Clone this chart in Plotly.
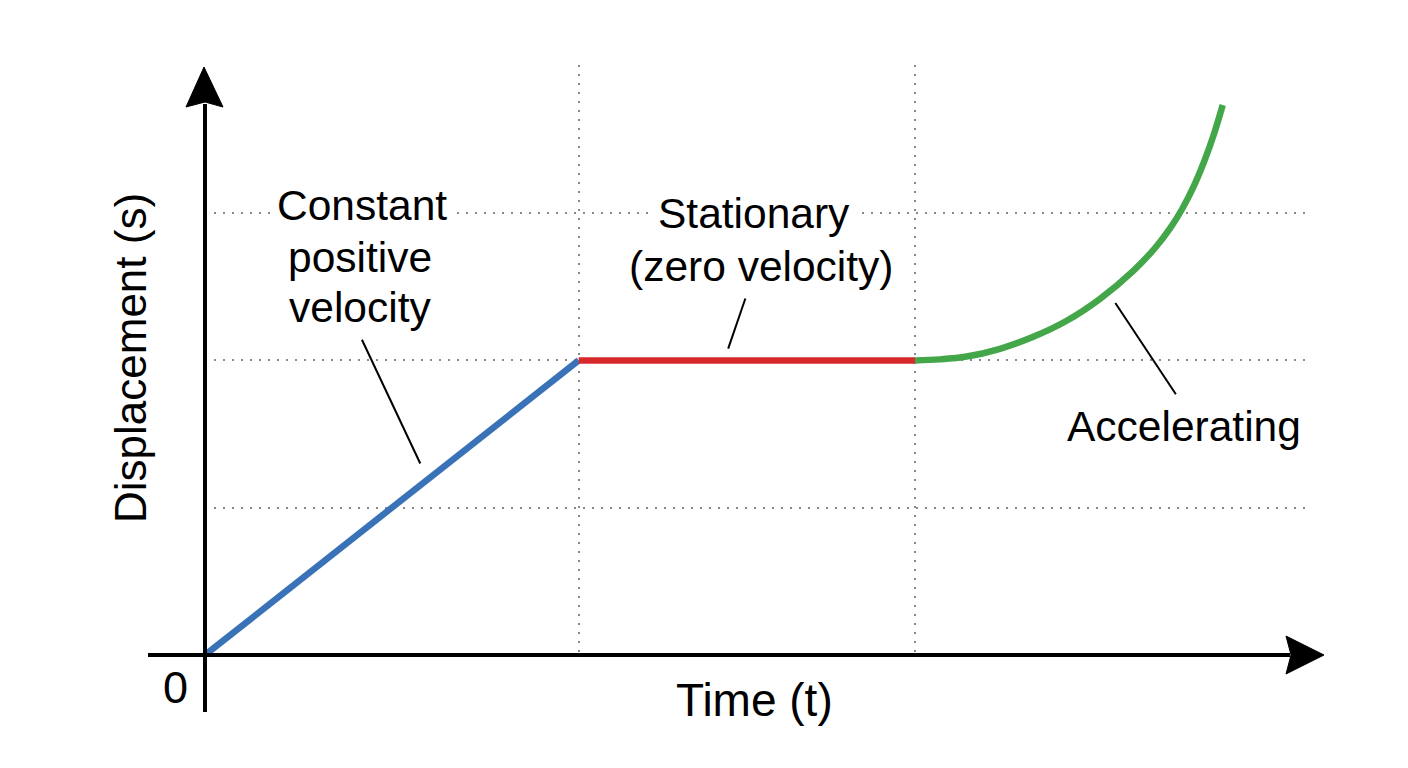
import plotly.graph_objects as go

# ---- data ----
blue_t = [0, 5]
blue_s = [0, 2]
red_t = [5, 9.5]
red_s = [2, 2]
green_t = [9.5, 9.834, 10.191, 10.637, 11.082, 11.529, 11.975, 12.420, 12.711, 12.912,
           13.072, 13.219, 13.366, 13.491, 13.617]
green_s = [2.0, 2.007, 2.026, 2.079, 2.160, 2.269, 2.418, 2.608, 2.763, 2.896,
           3.026, 3.171, 3.347, 3.523, 3.734]

x_grid = [5, 9.5]
y_grid = [1, 2, 3]

label_text = ["Constant", "positive", "velocity", "Stationary", "(zero velocity)", "Accelerating"]
label_x = [2.10, 2.07, 2.07, 7.35, 7.44, 13.10]
label_y = [3.055, 2.70, 2.356, 3.0, 2.64, 1.548]
label_bg = [True, False, False, True, False, False]

# leader lines (x0, y0, x1, y1) in data units
leader_x0 = [2.10, 7.23, 12.18]
leader_y0 = [2.14, 2.42, 2.39]
leader_x1 = [2.88, 7.00, 12.99]
leader_y1 = [1.30, 2.08, 1.77]

FONT = "Liberation Sans, Arial, Helvetica, sans-serif"

# layout geometry (pixels)
W, H = 1408, 768
ML, MR, MT, MB = 205, 100, 65, 113
PW = W - ML - MR
PH = H - MT - MB


def px(x):
    return (x - ML) / PW


def py(y):
    return (H - MB - y) / PH


fig = go.Figure()
fig.add_trace(go.Scatter(x=blue_t, y=blue_s, mode="lines",
                         line=dict(color="#3a72b8", width=6.5), showlegend=False))
fig.add_trace(go.Scatter(x=red_t, y=red_s, mode="lines",
                         line=dict(color="#d7282c", width=6.5), showlegend=False))
fig.add_trace(go.Scatter(x=green_t, y=green_s, mode="lines",
                         line=dict(color="#43a74a", width=6.5, shape="spline", smoothing=1),
                         showlegend=False))

shapes = []
# axes lines
shapes.append(dict(type="line", xref="paper", yref="paper",
                   x0=0, x1=0, y0=py(712), y1=py(104),
                   line=dict(color="black", width=4)))
shapes.append(dict(type="line", xref="paper", yref="paper",
                   x0=px(148), x1=px(1290), y0=0, y1=0,
                   line=dict(color="black", width=4)))
# arrowheads
shapes.append(dict(type="path", xref="paper", yref="paper",
                   path=f"M {px(204)} {py(67)} L {px(186)} {py(107)} L {px(205)} {py(102)} L {px(223)} {py(107)} Z",
                   fillcolor="black", line=dict(color="black", width=1)))
shapes.append(dict(type="path", xref="paper", yref="paper",
                   path=f"M {px(1324)} {py(655)} L {px(1286)} {py(636)} L {px(1291)} {py(655)} L {px(1286)} {py(674)} Z",
                   fillcolor="black", line=dict(color="black", width=1)))
# leader lines
for a, b, c, d in zip(leader_x0, leader_y0, leader_x1, leader_y1):
    shapes.append(dict(type="line", xref="x", yref="y", x0=a, y0=b, x1=c, y1=d,
                       line=dict(color="black", width=2)))

annotations = []
for t, x, y, bg in zip(label_text, label_x, label_y, label_bg):
    annotations.append(dict(text=t, x=x, y=y, xref="x", yref="y", showarrow=False,
                            xanchor="center", yanchor="middle",
                            font=dict(family=FONT, size=42.5, color="black"),
                            bgcolor="white" if bg else "rgba(0,0,0,0)", borderpad=6))
annotations.append(dict(text="Time (t)", x=px(754), y=py(700), xref="paper", yref="paper",
                        showarrow=False, xanchor="center", yanchor="middle",
                        font=dict(family=FONT, size=46, color="black")))
annotations.append(dict(text="0", x=px(175), y=py(688), xref="paper", yref="paper",
                        showarrow=False, xanchor="center", yanchor="middle",
                        font=dict(family=FONT, size=45, color="black")))
annotations.append(dict(text="Displacement (s)", x=px(130), y=py(358), xref="paper", yref="paper",
                        showarrow=False, xanchor="center", yanchor="middle", textangle=-90,
                        font=dict(family=FONT, size=44, color="black")))

fig.update_layout(
    width=W, height=H,
    margin=dict(l=ML, r=MR, t=MT, b=MB, pad=0),
    paper_bgcolor="white", plot_bgcolor="white",
    shapes=shapes, annotations=annotations,
    xaxis=dict(range=[0, PW / 74.74], tickvals=x_grid, showticklabels=False, ticks="",
               showgrid=True, gridcolor="#8a8a8a", gridwidth=2, griddash="2px,7px",
               zeroline=False, showline=False, fixedrange=True),
    yaxis=dict(range=[0, PH / 147.3], tickvals=y_grid, showticklabels=False, ticks="",
               showgrid=True, gridcolor="#8a8a8a", gridwidth=2, griddash="2px,7px",
               zeroline=False, showline=False, fixedrange=True),
)

fig.write_html("out.html", config=dict(displayModeBar=False))
